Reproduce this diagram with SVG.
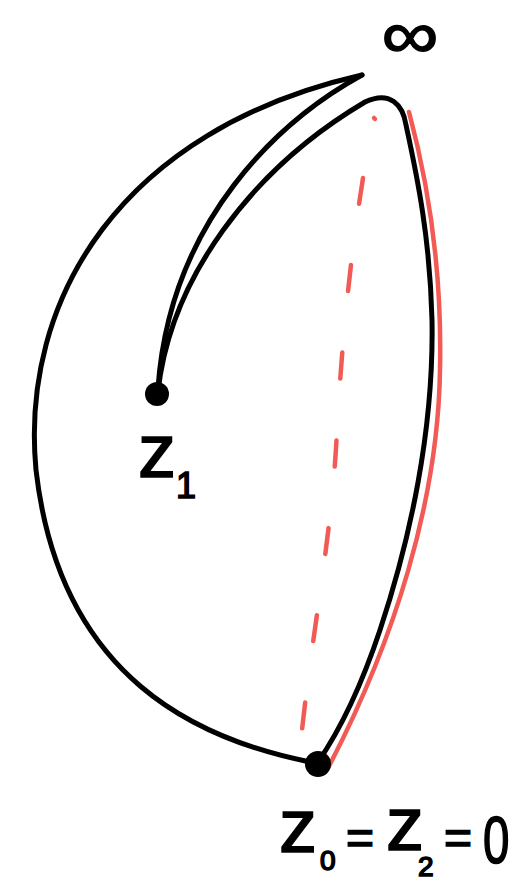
<svg xmlns="http://www.w3.org/2000/svg" width="514" height="882" viewBox="0 0 514 882">
<style>
.ink{fill:none;stroke:#000;stroke-width:5;stroke-linecap:round;stroke-linejoin:round}
.red{fill:none;stroke:#f25a55;stroke-width:4.5;stroke-linecap:round}
.dash{stroke-dasharray:26 62}
.lbl{font-family:"Liberation Sans","DejaVu Sans",sans-serif;fill:#000;stroke:#000;stroke-width:1.6}
.dot{fill:#000}
</style>
<rect width="514" height="882" fill="#fff"/>
<g id="connectors">
  <!-- outer arc: z0 around left to the tip near infinity -->
  <path class="ink" d="M310 762 C 200 740, 60 680, 36 470 C 20 300, 120 130, 362 75"/>
  <!-- upper inner line: tip back to z1 -->
  <path class="ink" d="M362 75 C 280 120, 170 220, 158 388"/>
  <!-- lower inner line: z1 up, over the hump, and down the right side to z0 -->
  <path class="ink" d="M158 392 C 170 280, 250 170, 365 102 C 390 90, 403 105, 406 125 C 418 180, 430 240, 432 320 C 434 430, 410 540, 380 630 C 360 690, 340 730, 318 762"/>
  <!-- red solid line on the right -->
  <path class="red" d="M409 112 C 430 190, 442 280, 440 370 C 438 500, 395 640, 328 768"/>
  <!-- red dashed line -->
  <path class="red" d="M374 118 L375 119"/>
  <path class="red dash" d="M363 178 C 350 260, 342 340, 337 430 C 332 540, 310 640, 299 760"/>
</g>
<g id="infinity">
  <text class="lbl" transform="translate(410 58) scale(1 0.85)" font-size="80" text-anchor="middle">∞</text>
</g>
<g id="z1">
  <circle class="dot" cx="157" cy="394" r="12"/>
  <text class="lbl" x="138" y="477" font-size="76">z</text>
  <text class="lbl" x="176" y="498" font-size="36">1</text>
</g>
<g id="z0">
  <circle class="dot" cx="318" cy="764" r="13"/>
  <text class="lbl" x="279" y="852" font-size="76">z</text>
  <text class="lbl" x="320" y="870" font-size="28">0</text>
  <text class="lbl" x="346" y="854" font-size="48">=</text>
  <text class="lbl" x="386" y="850" font-size="76">z</text>
  <text class="lbl" x="418" y="876" font-size="28">2</text>
  <text class="lbl" x="444" y="854" font-size="48">=</text>
  <text class="lbl" transform="translate(483 863) scale(0.72 1)" font-size="66">0</text>
</g>
</svg>
